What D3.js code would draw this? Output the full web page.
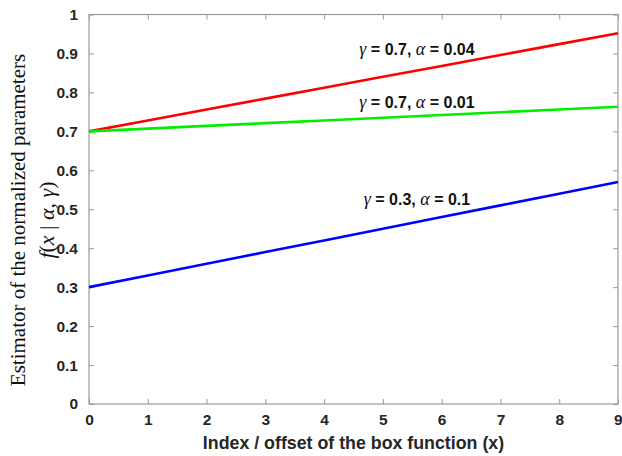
<!DOCTYPE html>
<html><head><meta charset="utf-8">
<script src="https://cdn.jsdelivr.net/npm/d3@7"></script>
<style>body{margin:0;background:#fff}svg{display:block}</style>
</head><body>
<script>
const xs = [0,1,2,3,4,5,6,7,8,9];
const redVals   = [0.700,0.728,0.756,0.784,0.812,0.840,0.868,0.896,0.924,0.952];
const greenVals = [0.700,0.707,0.714,0.721,0.728,0.735,0.742,0.749,0.756,0.763];
const blueVals  = [0.300,0.330,0.360,0.390,0.420,0.450,0.480,0.510,0.540,0.570];
const seriesNames = ["red","green","blue"];
const labelGamma = ["0.7","0.7","0.3"];
const labelAlpha = ["0.04","0.01","0.1"];
const labelX = [5.58,5.58,5.58];
const labelY = [0.895,0.76,0.51];
const xTicks = [0,1,2,3,4,5,6,7,8,9];
const yTicks = [0,0.1,0.2,0.3,0.4,0.5,0.6,0.7,0.8,0.9,1];

const W=622,H=456;
const m={l:89,r:4,t:14.5,b:52};
const svg=d3.select("body").append("svg").attr("width",W).attr("height",H);
const x=d3.scaleLinear().domain([0,9]).range([m.l,W-m.r]);
const y=d3.scaleLinear().domain([0,1]).range([H-m.b,m.t]);
const axisCol="#9a9a9a", txtCol="#262626";
const tickFont="bold 15.5px 'Liberation Sans', Arial, sans-serif";

svg.append("rect").attr("x",x(0)).attr("y",y(1)).attr("width",x(9)-x(0)).attr("height",y(0)-y(1))
  .attr("fill","none").attr("stroke",axisCol).attr("stroke-width",1.2);

function styleAxis(g){
  g.select(".domain").remove();
  g.selectAll(".tick line").attr("stroke",axisCol).attr("stroke-width",1);
  g.selectAll(".tick text").attr("fill",txtCol).style("font",tickFont);
}
const tl=5;
svg.append("g").attr("transform",`translate(0,${y(0)})`)
  .call(d3.axisBottom(x).tickValues(xTicks).tickFormat(d3.format("d")).tickSizeInner(-tl).tickPadding(10))
  .call(styleAxis)
  .call(g=>g.selectAll(".tick text").filter(d=>d===9).attr("text-anchor","end").attr("dx","4"));
svg.append("g").attr("transform",`translate(0,${y(1)})`)
  .call(d3.axisTop(x).tickValues(xTicks).tickFormat("").tickSizeInner(-tl))
  .call(styleAxis);
svg.append("g").attr("transform",`translate(${x(0)},0)`)
  .call(d3.axisLeft(y).tickValues(yTicks).tickFormat(d=>d===0||d===1?String(d):d3.format(".1f")(d)).tickSizeInner(-tl).tickPadding(11))
  .call(styleAxis);
svg.append("g").attr("transform",`translate(${x(9)},0)`)
  .call(d3.axisRight(y).tickValues(yTicks).tickFormat("").tickSizeInner(-tl))
  .call(styleAxis);

const colors={red:"#ff0000",green:"#00ee00",blue:"#0000ff"};
const data={red:redVals,green:greenVals,blue:blueVals};
const line=d3.line().x((d,i)=>x(xs[i])).y(d=>y(d));
seriesNames.forEach(s=>{
  svg.append("path").datum(data[s]).attr("d",line).attr("fill","none")
    .attr("stroke",colors[s]).attr("stroke-width",2.6);
});

const sans="bold 16px 'Liberation Sans', Arial, sans-serif";
const serifI="italic 18px 'Liberation Serif', 'DejaVu Serif', serif";
seriesNames.forEach((s,i)=>{
  const t=svg.append("text").attr("x",x(labelX[i])).attr("y",y(labelY[i])).attr("text-anchor","middle").attr("fill","#111");
  t.append("tspan").style("font",serifI).text("γ");
  t.append("tspan").style("font",sans).text(" = "+labelGamma[i]+", ");
  t.append("tspan").style("font",serifI).text("α");
  t.append("tspan").style("font",sans).text(" = "+labelAlpha[i]);
});

svg.append("text").attr("x",(x(0)+x(9))/2).attr("y",449).attr("text-anchor","middle")
  .attr("fill",txtCol).style("font","bold 17.8px 'Liberation Sans', Arial, sans-serif")
  .text("Index / offset of the box function (x)");

const cy=220;
svg.append("text").attr("transform",`translate(25,${cy}) rotate(-90)`).attr("text-anchor","middle")
  .attr("fill","#111").style("font","500 21px 'Liberation Serif', 'Times New Roman', serif")
  .text("Estimator of the normalized parameters");
const yl2=svg.append("text").attr("transform",`translate(54,${cy}) rotate(-90)`).attr("text-anchor","middle")
  .attr("fill","#111").style("font","italic 22px 'Liberation Serif', 'Times New Roman', serif");
yl2.append("tspan").text("f");
yl2.append("tspan").style("font-style","normal").text("(");
yl2.append("tspan").text("x");
yl2.append("tspan").style("font-style","normal").text(" | ");
yl2.append("tspan").text("α");
yl2.append("tspan").style("font-style","normal").text(", ");
yl2.append("tspan").text("γ");
yl2.append("tspan").style("font-style","normal").text(")");
</script>
</body></html>
